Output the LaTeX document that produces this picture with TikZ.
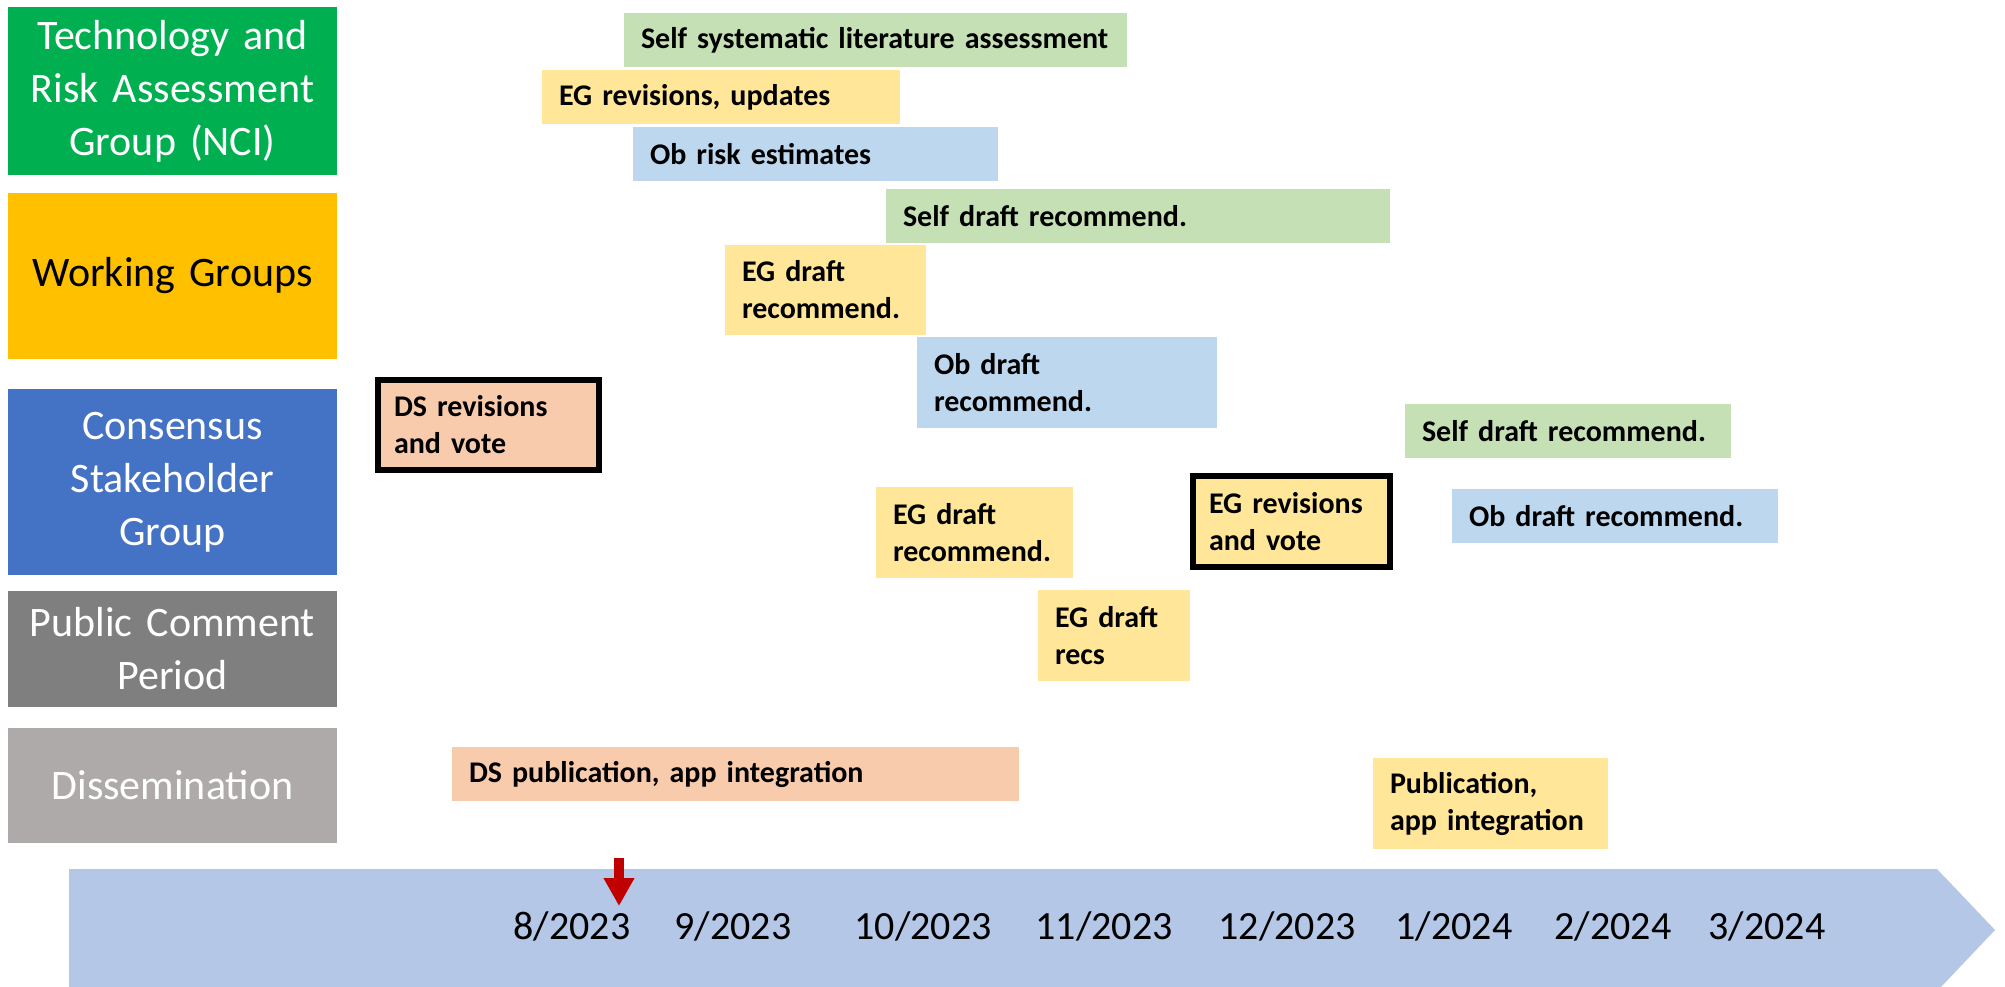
\documentclass[tikz,border=0pt]{standalone}
\usepackage{fontspec}
\setmainfont{Carlito}
\usetikzlibrary{arrows.meta}
\definecolor{catGreen}{HTML}{00B050}
\definecolor{catYellow}{HTML}{FFC000}
\definecolor{catBlue}{HTML}{4472C4}
\definecolor{catGray}{HTML}{7F7F7F}
\definecolor{catLGray}{HTML}{AEAAAA}
\definecolor{tGreen}{HTML}{C5E0B4}
\definecolor{tYellow}{HTML}{FFE699}
\definecolor{tBlue}{HTML}{BDD7EE}
\definecolor{tPeach}{HTML}{F8CBAD}
\definecolor{tline}{HTML}{B4C7E7}
\definecolor{mark}{HTML}{C00000}
\tikzset{
  cat/.style={draw=none, inner sep=0pt, minimum width=329pt, text width=325pt, align=center,
    font=\fontsize{42}{53}\selectfont, text=white},
  task/.style={draw=none, inner xsep=17pt, inner ysep=0pt, align=left,
    font=\fontsize{30}{37}\bfseries\selectfont, text=black},
  thick/.style={draw=black, line width=6pt, inner xsep=16pt},
  datelab/.style={font=\fontsize{40}{48}\selectfont, text=black, anchor=base, inner sep=0pt},
  redarr/.style={draw=mark, line width=10pt, -{Triangle[width=29pt,length=28pt]}}
}
\begin{document}
\begin{tikzpicture}[x=1pt,y=-1pt]
\useasboundingbox (0,0) rectangle (2005,987);
% timeline arrow
\fill[tline] (69,869) -- (1937,869) -- (1995,930) -- (1941,987) -- (69,987) -- cycle;
% categories
\node[cat, fill=catGreen, minimum height=168pt] (c1) at (172.5,91) {Technology and\\Risk Assessment\\Group (NCI)};
\node[cat, fill=catYellow, minimum height=166pt, text=black] (c2) at (172.5,276) {Working Groups};
\node[cat, fill=catBlue, minimum height=186pt] (c3) at (172.5,482) {Consensus\\Stakeholder\\Group};
\node[cat, fill=catGray, minimum height=116pt] (c4) at (172.5,649) {Public Comment\\Period};
\node[cat, fill=catLGray, minimum height=115pt] (c5) at (172.5,785.5) {Dissemination};
% tasks
\node[task, fill=tGreen, minimum width=503pt, text width=469pt, minimum height=54pt] (t1) at (875.5,40) {Self systematic literature assessment};
\node[task, fill=tYellow, minimum width=358pt, text width=324pt, minimum height=54pt] (t2) at (721,97) {EG revisions, updates};
\node[task, fill=tBlue, minimum width=365pt, text width=331pt, minimum height=54pt] (t3) at (815.5,154) {Ob risk estimates};
\node[task, fill=tGreen, minimum width=504pt, text width=470pt, minimum height=54pt] (t4) at (1138,216) {Self draft recommend.};
\node[task, fill=tYellow, minimum width=201pt, text width=167pt, minimum height=90pt] (t5) at (825.5,290) {EG draft\\recommend.};
\node[task, fill=tBlue, minimum width=300pt, text width=266pt, minimum height=91pt] (t6) at (1067,382.5) {Ob draft\\recommend.};
\node[task, thick, fill=tPeach, minimum width=221pt, text width=189pt, minimum height=90pt] (t7) at (488.5,425) {DS revisions\\and vote};
\node[task, fill=tYellow, minimum width=197pt, text width=163pt, minimum height=91pt] (t8) at (974.5,532.5) {EG draft\\recommend.};
\node[task, fill=tYellow, minimum width=152pt, text width=118pt, minimum height=91pt] (t9) at (1114,635.5) {EG draft\\recs};
\node[task, fill=tPeach, minimum width=567pt, text width=533pt, minimum height=54pt] (t10) at (735.5,774) {DS publication, app integration};
\node[task, fill=tGreen, minimum width=326pt, text width=292pt, minimum height=54pt] (t11) at (1568,431) {Self draft recommend.};
\node[task, thick, fill=tYellow, minimum width=197pt, text width=165pt, minimum height=91pt] (t12) at (1291.5,521.5) {EG revisions\\and vote};
\node[task, fill=tBlue, minimum width=326pt, text width=292pt, minimum height=54pt] (t13) at (1615,516) {Ob draft recommend.};
\node[task, fill=tYellow, minimum width=235pt, text width=201pt, minimum height=91pt] (t14) at (1490.5,803.5) {Publication,\\app integration};
% dates
\node[datelab] (d1) at (572,939) {8/2023};
\node[datelab] (d2) at (733,939) {9/2023};
\node[datelab] (d3) at (923,939) {10/2023};
\node[datelab] (d4) at (1104,939) {11/2023};
\node[datelab] (d5) at (1287,939) {12/2023};
\node[datelab] (d6) at (1454,939) {1/2024};
\node[datelab] (d7) at (1613,939) {2/2024};
\node[datelab] (d8) at (1767,939) {3/2024};
% current-date marker
\coordinate (rtop) at (619,858);
\coordinate (rtip) at (619,906);
\draw[redarr] (rtop) -- (rtip);
\end{tikzpicture}
\end{document}
